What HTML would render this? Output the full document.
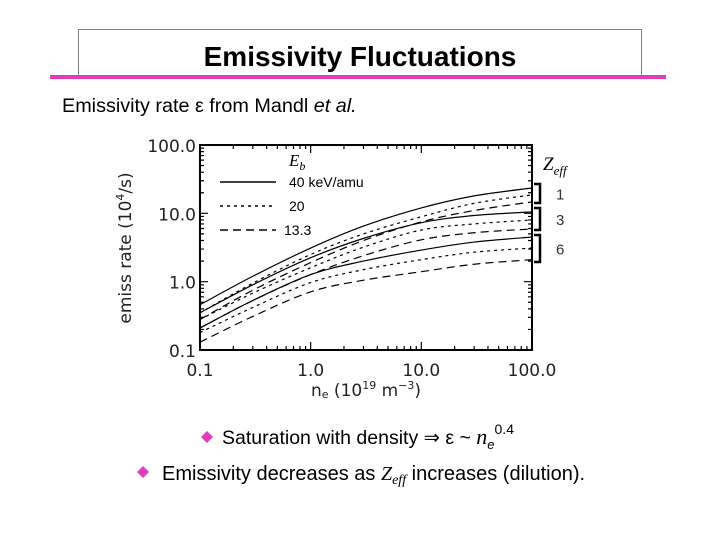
<!DOCTYPE html>
<html><head><meta charset="utf-8"><style>
body{margin:0;background:#fff;}
#wrap{position:relative;width:720px;height:540px;overflow:hidden;font-family:"Liberation Sans",sans-serif;}
</style></head><body>
<div id="wrap">
<svg id="svg" width="720" height="540" xmlns="http://www.w3.org/2000/svg">
  <rect x="78.5" y="29.5" width="563" height="46" fill="none" stroke="#000" stroke-width="1" stroke-dasharray="1,1"/>
  <rect x="50" y="75" width="616" height="4" fill="#e23bbd"/>
  <text x="360" y="66" text-anchor="middle" font-size="28" font-weight="bold" font-family="Liberation Sans, sans-serif">Emissivity Fluctuations</text>
  <text x="62" y="112" font-size="19.8" font-family="Liberation Sans, sans-serif">Emissivity rate ε from Mandl <tspan font-style="italic">et al.</tspan></text>
  <g id="chart"></g>
  <path d="M207,431 l6,6 l-6,6 l-6,-6z" fill="#e23bbd"/>
  <text x="222" y="444" font-size="19.5" font-family="Liberation Sans, sans-serif">Saturation with density ⇒ ε ~ <tspan font-style="italic" font-family="Liberation Serif, serif" font-size="22">n</tspan><tspan font-style="italic" font-size="13" dy="5">e</tspan><tspan font-size="14" dy="-15">0.4</tspan></text>
  <path d="M143,466 l6,6 l-6,6 l-6,-6z" fill="#e23bbd"/>
  <text x="162" y="480" font-size="20" font-family="Liberation Sans, sans-serif">Emissivity decreases as <tspan font-style="italic" font-family="Liberation Serif, serif">Z</tspan><tspan font-style="italic" font-family="Liberation Serif, serif" font-size="14" dy="4">eff</tspan><tspan dy="-4"> increases (dilution).</tspan></text>
</svg>
</div>
<script>
const xVals = [0.1, 0.3, 1, 3, 10, 30, 100];
const seriesNames = ['z1-40','z1-20','z1-13','z3-40','z3-20','z3-13','z6-40','z6-20','z6-13'];
const seriesStyle = ['solid','dot','dash','solid','dot','dash','solid','dot','dash'];
const z1e40 = [0.46, 1.2, 3.1, 6.5, 12, 18, 23.5];
const z1e20 = [0.35, 0.95, 2.5, 5.0, 8.9, 14, 18.6];
const z1e13 = [0.28, 0.75, 1.9, 4.0, 7.5, 11, 14.7];
const z3e40 = [0.35, 0.9, 2.24, 4.3, 7.3, 9.3, 10.5];
const z3e20 = [0.28, 0.68, 1.6, 3.2, 5.7, 7.0, 8.0];
const z3e13 = [0.21, 0.53, 1.27, 2.4, 4.1, 5.2, 5.9];
const z6e40 = [0.21, 0.53, 1.27, 2.0, 2.9, 3.8, 4.5];
const z6e20 = [0.18, 0.42, 0.97, 1.5, 2.1, 2.7, 3.1];
const z6e13 = [0.13, 0.31, 0.71, 1.05, 1.4, 1.8, 2.1];
const allSeries = [z1e40,z1e20,z1e13,z3e40,z3e20,z3e13,z6e40,z6e20,z6e13];
const xTickVals = [0.1, 1, 10, 100];
const xTickLabels = ['0.1','1.0','10.0','100.0'];
const yTickVals = [0.1, 1, 10, 100];
const yTickLabels = ['0.1','1.0','10.0','100.0'];

const X0=200, X1=532, Y0=350, Y1=145;
function xs(v){return X0+(Math.log10(v)+1)/3*(X1-X0);}
function ys(v){return Y0-(Math.log10(v)+1)/3*(Y0-Y1);}
const NS='http://www.w3.org/2000/svg';
const g=document.getElementById('chart');
function mk(t,a){const e=document.createElementNS(NS,t);for(const k in a)e.setAttribute(k,a[k]);g.appendChild(e);return e;}
const dashes={solid:'none',dot:'3,4',dash:'8,5'};

let frame=mk('rect',{x:X0,y:Y1,width:X1-X0,height:Y0-Y1,fill:'none',stroke:'#000','stroke-width':2});



for(let d=-1;d<2;d++){for(let m=1;m<10;m++){const v=m*Math.pow(10,d);const L=m===1?8:4;
 const x=xs(v),y=ys(v);
 let t=mk('path',{d:`M${x},${Y0}v${-L}M${x},${Y1}v${L}M${X0},${y}h${L}M${X1},${y}h${-L}`,stroke:'#000','stroke-width':1.2});
 
 }}
xTickVals.forEach((v,i)=>{let t=mk('text',{x:xs(v),y:376,'text-anchor':'middle','font-size':17,fill:'#222','font-family':'DejaVu Sans, sans-serif'});t.textContent=xTickLabels[i];
 
 });
yTickVals.forEach((v,i)=>{let t=mk('text',{x:196,y:ys(v)+7,'text-anchor':'end','font-size':17,fill:'#222','font-family':'DejaVu Sans, sans-serif'});t.textContent=yTickLabels[i];
 
 });
let xt=mk('text',{x:366,y:396,'text-anchor':'middle','font-size':17,fill:'#222','font-family':'DejaVu Sans, sans-serif'});
xt.innerHTML='n<tspan font-size="11" dy="2">e</tspan><tspan dy="-2"> (10</tspan><tspan font-size="11" dy="-7">19</tspan><tspan dy="7"> m</tspan><tspan font-size="11" dy="-7">−3</tspan><tspan dy="7">)</tspan>';


let yt=mk('text',{x:0,y:0,'text-anchor':'middle','font-size':17,fill:'#222','font-family':'DejaVu Sans, sans-serif',transform:'translate(131,248) rotate(-90)'});
yt.innerHTML='emiss rate (10<tspan font-size="11" dy="-7">4</tspan><tspan dy="7">/s)</tspan>';



allSeries.forEach((s,i)=>{
 const p=xVals.map((v,j)=>[xs(v),ys(s[j])]);
 let d=`M${p[0][0]},${p[0][1]}`;
 for(let j=0;j<p.length-1;j++){const a=p[j-1]||p[j],b=p[j],c=p[j+1],e=p[j+2]||c;
  d+=` C${b[0]+(c[0]-a[0])/6},${b[1]+(c[1]-a[1])/6} ${c[0]-(e[0]-b[0])/6},${c[1]-(e[1]-b[1])/6} ${c[0]},${c[1]}`;}
 let l=mk('path',{d:d,fill:'none',stroke:'#000','stroke-width':1.2,'stroke-dasharray':dashes[seriesStyle[i]]});
 
 
});

let eb=mk('text',{x:289,y:166,'font-size':17,'font-style':'italic','font-family':'Liberation Serif, serif'});
eb.innerHTML='E<tspan font-size="12" dy="4">b</tspan>';


const legLabels=['40 keV/amu','20','13.3'];
['solid','dot','dash'].forEach((s,i)=>{const y=182+i*24;
 let l=mk('line',{x1:220,x2:276,y1:y,y2:y,stroke:'#000','stroke-width':1.5,'stroke-dasharray':dashes[s]});
 
 
 let t=mk('text',{x:i==2?284:289,y:y+5,'font-size':14,'font-family':'Liberation Sans, sans-serif'});t.textContent=legLabels[i];
 
 });
let zt=mk('text',{x:543,y:170,'font-size':19,'font-style':'italic','font-family':'Liberation Serif, serif'});
zt.innerHTML='Z<tspan font-size="13" dy="5">eff</tspan>';


const brk=[[184,203,'1'],[208,230,'3'],[235,262,'6']];
brk.forEach(b=>{let p=mk('path',{d:`M534,${b[0]}h6v${b[1]-b[0]}h-6`,fill:'none',stroke:'#000','stroke-width':2.5});
 
 
 let t=mk('text',{x:556,y:(b[0]+b[1])/2+6,'font-size':15,fill:'#333','font-family':'Liberation Sans, sans-serif'});t.textContent=b[2];
 
 });
</script>
</body></html>
